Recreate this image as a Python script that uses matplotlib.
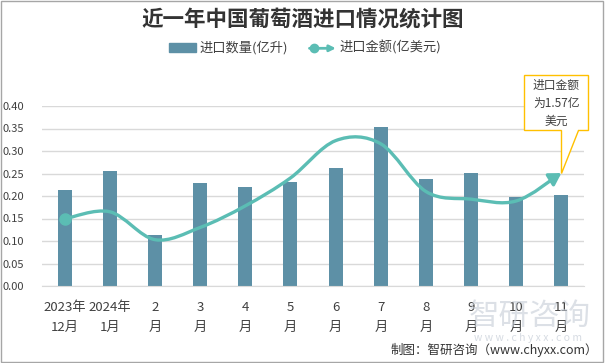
import matplotlib.pyplot as plt
import matplotlib.transforms as mtransforms
from matplotlib.path import Path
from matplotlib.patches import FancyArrowPatch, Patch, Polygon, Rectangle
from matplotlib.lines import Line2D
import numpy as np

plt.rcParams['font.family'] = ['Noto Sans CJK SC', 'DejaVu Sans']

months = ["2023年\n12月", "2024年\n1月", "2\n月", "3\n月", "4\n月", "5\n月",
          "6\n月", "7\n月", "8\n月", "9\n月", "10\n月", "11\n月"]
volume = [0.213, 0.256, 0.114, 0.229, 0.220, 0.231, 0.262, 0.354, 0.238, 0.251, 0.197, 0.202]
amount = [0.149, 0.165, 0.103, 0.130, 0.178, 0.240, 0.323, 0.316, 0.210, 0.193, 0.189, 0.251]
yticks = [0.00, 0.05, 0.10, 0.15, 0.20, 0.25, 0.30, 0.35, 0.40]

bar_color = "#5D90A6"
line_color = "#5BBDB4"
text_color = "#404040"

fig = plt.figure(figsize=(6.05, 3.63), dpi=100)
ax = fig.add_axes([42 / 605, 1 - 286 / 363, 542 / 605, 180 / 363])

x = np.arange(len(months))
ax.bar(x, volume, width=0.31, color=bar_color, zorder=2)


# smooth curve through the points (cubic bezier, catmull-rom style)
def smooth_path(xs, ys):
    pts = np.column_stack([xs, ys])
    n = len(pts)
    verts = [pts[0]]
    codes = [Path.MOVETO]
    for i in range(n - 1):
        p0 = pts[max(i - 1, 0)]
        p1 = pts[i]
        p2 = pts[i + 1]
        p3 = pts[min(i + 2, n - 1)]
        c1 = p1 + (p2 - p0) / 6.0
        c2 = p2 - (p3 - p1) / 6.0
        verts += [c1, c2, p2]
        codes += [Path.CURVE4] * 3
    return Path(verts, codes)


curve = FancyArrowPatch(path=smooth_path(x, amount), arrowstyle="-|>,head_length=0.5,head_width=0.3",
                        mutation_scale=14, color=line_color, lw=2.4, transform=ax.transData,
                        zorder=3, shrinkA=0, shrinkB=0)
ax.add_patch(curve)
ax.plot(x[0], amount[0], "o", color=line_color, ms=8, zorder=4)

ax.set_xlim(-0.5, len(months) - 0.5)
ax.set_ylim(0, 0.40)
ax.set_yticks(yticks)
ax.set_yticklabels([f"{v:.2f}" for v in yticks])
ax.set_xticks(x)
ax.set_xticklabels(months, linespacing=1.65)
ax.tick_params(axis="both", length=0, colors=text_color)
ax.tick_params(axis="y", labelsize=8, pad=13)
ax.tick_params(axis="x", labelsize=9.5, pad=11)
ax.grid(axis="y", color="#D9D9D9", lw=1, zorder=0)
ax.set_axisbelow(True)
for s in ["left", "right", "top"]:
    ax.spines[s].set_visible(False)
ax.spines["bottom"].set_color("#D9D9D9")

# callout on the last point
tip = mtransforms.ScaledTranslation(x[-1], amount[-1], ax.transData)
shape = np.array([[0, 0], [0, 43], [-37, 43], [-37, 98], [27, 98], [27, 43], [17, 43]]) / 100.0
ax.add_patch(Polygon(shape, closed=True, fc="white", ec="#FFC000", lw=1,
                     transform=fig.dpi_scale_trans + tip, clip_on=False, zorder=5))
ax.annotate("进口金额\n为1.57亿\n美元", xy=(x[-1], amount[-1]), xytext=(-5, 70),
            textcoords="offset pixels", ha="center", va="center", fontsize=8.5,
            color=text_color, linespacing=1.5, zorder=6, annotation_clip=False)


# legend
class ArrowHandler:
    def legend_artist(self, legend, orig_handle, fontsize, handlebox):
        x0, y0 = handlebox.xdescent, handlebox.ydescent
        w, h = handlebox.width, handlebox.height
        arr = FancyArrowPatch((x0, y0 + h / 2), (x0 + w, y0 + h / 2), arrowstyle="-|>",
                              mutation_scale=9, color=line_color, lw=2, shrinkA=0, shrinkB=0,
                              transform=handlebox.get_transform())
        dot = Line2D([x0 + 3], [y0 + h / 2], marker="o", ms=6, color=line_color,
                     transform=handlebox.get_transform())
        handlebox.add_artist(arr)
        handlebox.add_artist(dot)
        return arr


arrow_key = object()
fig.legend([Patch(color=bar_color), arrow_key], ["进口数量(亿升)", "进口金额(亿美元)"],
           handler_map={arrow_key: ArrowHandler()}, loc="center", bbox_to_anchor=(0.505, 0.868),
           ncol=2, frameon=False, fontsize=9.5, handlelength=2.0, handleheight=0.6,
           columnspacing=1.6, handletextpad=0.3, labelcolor=text_color)

fig.text(0.5, 1 - 19 / 363, "近一年中国葡萄酒进口情况统计图", ha="center", va="center",
         fontsize=15.5, fontweight="bold", color="#333333")

# watermark
fig.text(530 / 605, 1 - 316 / 363, "智研咨询", ha="center", va="center", fontsize=22,
         color="#C5CCD6", alpha=0.6, zorder=10)
fig.text(528 / 605, 1 - 338 / 363, "w w w . c h y x x . c o m", ha="center", va="center",
         fontsize=7.5, color="#C5CCD6", alpha=0.7, zorder=10)

fig.text(598 / 605, 1 - 350 / 363, "制图：智研咨询（www.chyxx.com）", ha="right", va="center",
         fontsize=9, color="#333333")

fig.add_artist(Rectangle((0.001, 0.002), 0.996, 0.995, transform=fig.transFigure,
                         fill=False, ec="#A6A6A6", lw=1))

fig.savefig("out.png", dpi=100)
